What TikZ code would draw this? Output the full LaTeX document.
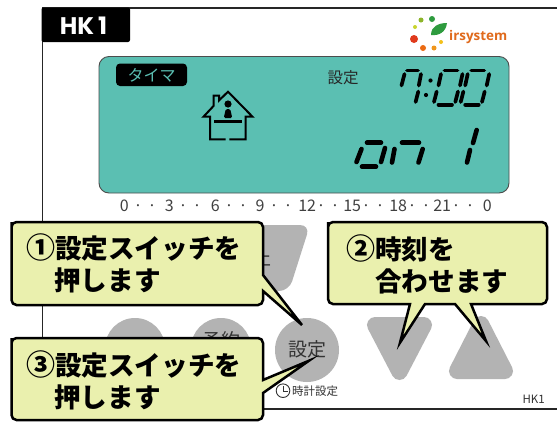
\documentclass[tikz,border=0pt]{standalone}
\usepackage{fontspec}
\setmainfont{Noto Sans CJK JP}
\newfontfamily\hkfont{Poppins}
\newfontfamily\logofont{Open Sans}
\newcommand{\fs}[1]{\fontsize{#1}{#1}\selectfont}
\definecolor{lcd}{HTML}{5BBFB2}
\definecolor{btn}{HTML}{B3B3B3}
\definecolor{bub}{HTML}{EAF0AE}
\definecolor{ink}{HTML}{333333}
\newcommand{\tkseg}[2]{\makebox[0pt]{#1}\hspace{14pt}\makebox[0pt]{·}\hspace{14pt}\makebox[0pt]{·}\hspace{#2pt}}
\newcommand{\cnum}[1]{{\fs{29}#1}}
\tikzset{
  panel/.style={draw=black!85,line width=1.6},
  button/.style={draw=btn,fill=btn,line width=16,line join=round},
  bubble/.style={draw=black,fill=bub,line width=2.5,line join=miter},
  bubtext/.style={font=\fs{26.6}\bfseries,anchor=west,inner sep=0,text=black},
  seg/.style={line width=3.7,line cap=round,black},
  bigseg/.style={line width=4.6,line cap=round,black},
  housel/.style={line width=2,black,line join=miter},
}
\newcommand{\zerodigit}[1]{
  \begin{scope}[xshift=#1]
  \draw[seg] (444.5,70.5) -- (457.5,70.5);
  \draw[seg] (441,74) -- (438.5,85.5);
  \draw[seg] (462.5,74) -- (460,85.5);
  \draw[seg] (436.7,91.5) -- (434,102);
  \draw[seg] (458,91.5) -- (455.3,102);
  \draw[seg] (438.5,104.7) -- (452,104.7);
  \end{scope}}
\begin{document}
\begin{tikzpicture}[x=1pt,y=-1pt]
\useasboundingbox (0,0) rectangle (557,421);
\fill[white] (0,0) rectangle (557,421);
% panel
\draw[panel] (557,8) -- (42.5,8) -- (42.5,409) -- (557,409);
\fill[black,rounded corners=2] (41.5,7.5) rectangle (130,42);
\node[font=\hkfont\fs{24}\bfseries,text=white,inner sep=0] (hk) at (83.5,25.5) {HK\,1};
% logo
\fill[fill={rgb,255:red,46;green,155;blue,62}] (432,19) circle (3);
\fill[fill={rgb,255:red,141;green,181;blue,42}] (421,20) circle (2.5);
\fill[fill={rgb,255:red,200;green,212;blue,46}] (415,27) circle (2);
\fill[fill={rgb,255:red,224;green,58;blue,28}] (414,39) circle (4);
\fill[fill={rgb,255:red,235;green,106;blue,18}] (423,48) circle (3);
\fill[fill={rgb,255:red,240;green,150;blue,28}] (434,48) circle (2.5);
\fill[fill={rgb,255:red,243;green,192;blue,25}] (441,42) circle (2);
\fill[fill={rgb,255:red,46;green,155;blue,62}] (431,35) .. controls (431,26) and (439,23) .. (447,23) .. controls (446,32) and (439,36) .. (431,35) -- cycle;
\node[font=\logofont\fs{13.4}\bfseries,text={rgb,255:red,224;green,106;blue,28},inner sep=0,anchor=base west] (logo) at (449,40) {irsystem};
% LCD
\draw[fill=lcd,draw=black!70,line width=0.9,rounded corners=10] (99,56.5) rectangle (509,193);
\fill[black,rounded corners=4] (116,63.5) rectangle (187,86);
\node[font=\fs{16},text=lcd,inner sep=0] (timer) at (151.5,75) {タイマ};
\node[font=\fs{15.5},text=black!85,inner sep=0] (setlabel) at (343,78) {設定};
% house
\draw[housel] (225.7,139.3) -- (210,139.3) -- (210,116.7) -- (203.5,116.7) -- (213.5,106) -- (213.5,95.5) -- (219,95.5) -- (219,100.5) -- (228,91.7) -- (252.5,116.7) -- (245.7,116.7) -- (245.7,139.3) -- (229.3,139.3);
\fill[black] (228,104) circle (3.6);
\fill[black,rounded corners=1.5] (225.8,109) -- (230.2,109) -- (232.3,118) -- (223.7,118) -- cycle;
\fill[black] (214,120) rectangle (242,123);
% time
\draw[seg] (407,70.5) -- (418,70.5);
\draw[seg] (404.5,74) -- (401.5,85.5);
\draw[seg] (421,74) -- (418.8,85.5);
\draw[seg] (418.3,91.5) -- (415.6,102);
\fill[black] (430.5,80.5) circle (2.1);
\fill[black] (426,95) circle (2.1);
\zerodigit{0}
\zerodigit{26.7}
% on 1
\draw[bigseg] (367,142.7) -- (381,142.7);
\draw[bigseg] (361.5,149) -- (356.5,162);
\draw[bigseg] (385,148) -- (381,162);
\draw[bigseg] (362,166.7) -- (376,166.7);
\draw[bigseg] (402,142.7) -- (419,142.7);
\draw[bigseg] (394.5,149) -- (392,162.5);
\draw[bigseg] (422.7,149) -- (418.5,162.5);
\draw[bigseg] (476.7,130) -- (473,143);
\draw[bigseg] (470,150) -- (467,162.5);
% scale
\node[font=\fs{16},text=black!75,inner sep=0,anchor=base west] (scale) at (124,211) {\tkseg{0}{17}\tkseg{3}{18}\tkseg{6}{17}\tkseg{9}{19}\tkseg{12}{17}\tkseg{15}{18}\tkseg{18}{16}\tkseg{21}{17}\makebox[0pt]{0}};
% buttons
\fill[btn,rounded corners=10] (240,225) -- (310,225) -- (289,291) -- (255,291) -- cycle;
\node[font=\fs{19},text=ink,inner sep=0] (stop) at (262,258) {止};
\fill[btn] (135,348) circle (30);
\fill[btn] (221,348) circle (30);
\node[font=\fs{19},text=ink,inner sep=0] (resv) at (221,340) {予約};
\fill[btn] (307,350) circle (32);
\node[font=\fs{19},text=ink,inner sep=0] (setbtn) at (307,349) {設定};
\draw[button] (375,325) -- (424,325) -- (399.5,372) -- cycle;
\draw[button] (457,371) -- (505,371) -- (481,324) -- cycle;
% clock
\draw[black!80,line width=0.9] (283,390.7) circle (6.8);
\draw[black!80,line width=0.9] (283,386) -- (283,391) -- (287.5,391);
\node[font=\fs{11.5},text=ink,inner sep=0,anchor=west] (clk) at (292,391) {時計設定};
\node[font=\fs{11.5},text=ink,inner sep=0,anchor=east] (hksmall) at (545,399) {HK1};
% callouts
\draw[bubble] (11.5,227) [rounded corners=5] -- (11.5,222) -- (263,222) [sharp corners] -- (263,275) -- (302,325) -- (263,291) [rounded corners=5] -- (263,305) -- (11.5,305) -- cycle;
\node[bubtext] (t1a) at (26,247) {\cnum{①}設定スイッチを};
\node[bubtext] (t1b) at (54,280) {押します};
\draw[bubble] (11.5,343) [rounded corners=5] -- (11.5,338) -- (263,338) [sharp corners] -- (263,380) -- (309,360.7) -- (263,393) [rounded corners=5] -- (263,420) -- (11.5,420) -- cycle;
\node[bubtext] (t3a) at (26,364) {\cnum{③}設定スイッチを};
\node[bubtext] (t3b) at (54,397) {押します};
\draw[bubble] (328,227) [rounded corners=5] -- (328,222) -- (547,222) -- (547,304) [sharp corners] -- (471,304) -- (486,341) -- (455,304) -- (425,304) -- (400,342.7) -- (410,304) [rounded corners=5] -- (328,304) -- cycle;
\node[bubtext] (t2a) at (346,248) {\cnum{②}時刻を};
\node[bubtext] (t2b) at (375,281) {合わせます};
\end{tikzpicture}
\end{document}
